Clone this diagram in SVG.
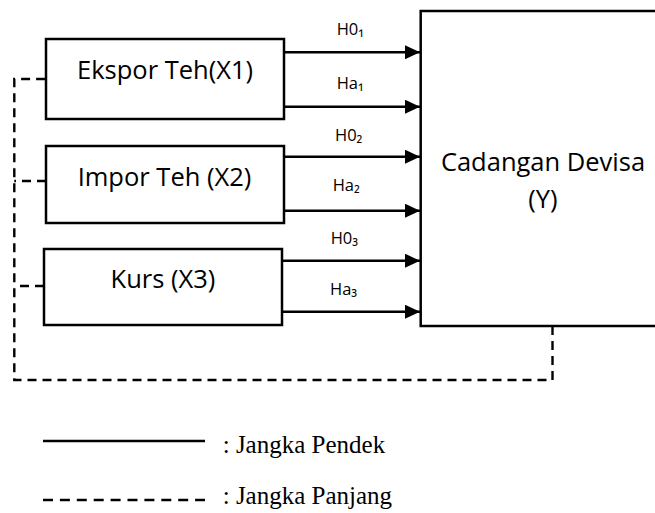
<svg xmlns="http://www.w3.org/2000/svg" width="655" height="513" viewBox="0 0 655 513">
<style>
.box{fill:#fff;stroke:#000;stroke-width:2.5}
.lbl{font-family:"Open Sans","Noto Sans","DejaVu Sans",sans-serif;font-size:25.5px;fill:#000}
.sm{font-family:"Open Sans","Noto Sans","DejaVu Sans",sans-serif;font-size:16.5px;fill:#000}
.leg{font-family:"Liberation Serif","Times New Roman",serif;font-size:25px;fill:#000}
.arr{stroke:#000;stroke-width:2.6;fill:none;marker-end:url(#ah)}
.dash{stroke:#000;stroke-width:2.4;fill:none;stroke-dasharray:9 6}
</style>
<defs>
<marker id="ah" markerUnits="userSpaceOnUse" markerWidth="16" markerHeight="16" refX="15" refY="7" orient="auto">
<path d="M0,0 L15,7 L0,14 Z" fill="#000"/>
</marker>
</defs>
<rect width="655" height="513" fill="#fff"/>
<g id="connectors">
<path class="arr" d="M284,52.3 H420"/>
<path class="arr" d="M284,106.7 H420"/>
<path class="arr" d="M284,156.7 H420"/>
<path class="arr" d="M284,210.7 H420"/>
<path class="arr" d="M282,260.7 H420"/>
<path class="arr" d="M282,311.7 H420"/>
<path class="dash" d="M552.5,326 V380 H14.3 V79 H46"/>
<path class="dash" d="M46,181 H14.3"/>
<path class="dash" d="M44,286 H14.3"/>
<text class="sm" x="336.7" y="34.5">H0₁</text>
<text class="sm" x="336.7" y="89">Ha₁</text>
<text class="sm" x="335" y="140.5">H0₂</text>
<text class="sm" x="332.7" y="191">Ha₂</text>
<text class="sm" x="330.7" y="243.5">H0₃</text>
<text class="sm" x="330" y="295">Ha₃</text>
</g>
<g id="x1">
<rect class="box" x="46" y="39" width="238" height="80"/>
<text class="lbl" x="165" y="79.3" text-anchor="middle">Ekspor Teh(X1)</text>
</g>
<g id="x2">
<rect class="box" x="46" y="146" width="238" height="77"/>
<text class="lbl" x="164.5" y="186" text-anchor="middle">Impor Teh (X2)</text>
</g>
<g id="x3">
<rect class="box" x="44" y="249" width="238" height="76"/>
<text class="lbl" x="163" y="288.3" text-anchor="middle">Kurs (X3)</text>
</g>
<g id="y">
<rect class="box" x="420.7" y="11" width="240" height="315"/>
<text class="lbl" x="543" y="170.7" text-anchor="middle">Cadangan Devisa</text>
<text class="lbl" x="543" y="208" text-anchor="middle">(Y)</text>
</g>
<g id="legend">
<line x1="43" y1="441" x2="205" y2="441" stroke="#000" stroke-width="2.6"/>
<text class="leg" x="222.7" y="453.3">: Jangka Pendek</text>
<line x1="43" y1="500" x2="205" y2="500" stroke="#000" stroke-width="2.6" stroke-dasharray="10 6.9"/>
<text class="leg" x="222.7" y="504">: Jangka Panjang</text>
</g>
</svg>
